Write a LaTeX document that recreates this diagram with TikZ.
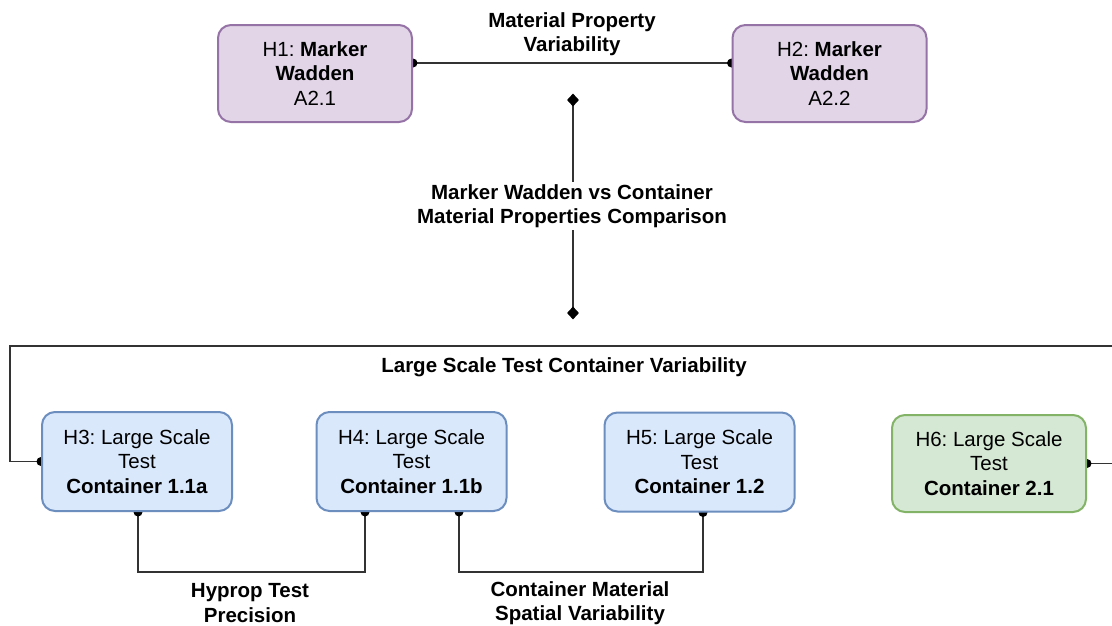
\documentclass[tikz,border=0pt]{standalone}
\usepackage{fontspec}
\setmainfont{Liberation Sans}
\usetikzlibrary{backgrounds,shapes.geometric}
\frenchspacing

\definecolor{purplefill}{HTML}{E1D5E7}
\definecolor{purpleline}{HTML}{9673A6}
\definecolor{bluefill}{HTML}{DAE8FC}
\definecolor{blueline}{HTML}{6C8EBF}
\definecolor{greenfill}{HTML}{D5E8D4}
\definecolor{greenline}{HTML}{82B366}
\definecolor{linkcol}{HTML}{333333}

\tikzset{
  hbox/.style={draw, line width=2pt, rounded corners=13pt, align=center,
    inner sep=0pt, font=\fontsize{20.5}{24.5}\selectfont},
  purplebox/.style={hbox, fill=purplefill, draw=purpleline, minimum width=194pt, minimum height=97pt},
  bluebox/.style={hbox, fill=bluefill, draw=blueline, minimum width=190pt, minimum height=99pt},
  greenbox/.style={hbox, fill=greenfill, draw=greenline, minimum width=194pt, minimum height=97pt},
  link/.style={draw=linkcol, line width=1.4pt},
  enddot/.style={circle, fill=black, inner sep=0pt, minimum size=9pt},
  enddiamond/.style={diamond, fill=black, inner sep=0pt, minimum width=12pt, minimum height=13pt},
  lbl/.style={align=center, inner sep=2pt, font=\fontsize{20.5}{24.5}\selectfont\bfseries},
}

\begin{document}
\begin{tikzpicture}[x=1pt,y=-1pt]
\useasboundingbox (0,0) rectangle (1112,625);

% hypothesis boxes
\node[purplebox] (h1) at (315,73.5) {H1: \textbf{Marker}\\\textbf{Wadden}\\A2.1};
\node[purplebox] (h2) at (829.5,73.5) {H2: \textbf{Marker}\\\textbf{Wadden}\\A2.2};
\node[bluebox] (h3) at (137,461.5) {H3: Large Scale\\Test\\\textbf{Container 1.1a}};
\node[bluebox] (h4) at (411.5,461.5) {H4: Large Scale\\Test\\\textbf{Container 1.1b}};
\node[bluebox] (h5) at (699.5,462) {H5: Large Scale\\Test\\\textbf{Container 1.2}};
\node[greenbox] (h6) at (989,463.5) {H6: Large Scale\\Test\\\textbf{Container 2.1}};

% connection points and free ends
\coordinate (h1e) at ([yshift=10.5pt]h1.east);
\coordinate (h2w) at ([yshift=10.5pt]h2.west);
\coordinate (vtop) at (573,100);
\coordinate (vbot) at (573,313);
\coordinate (loopl) at (10,346);
\coordinate (loopr) at (1140,346);
\coordinate (h4l) at ([xshift=-46.5pt]h4.south);
\coordinate (h4r) at ([xshift=47.5pt]h4.south);
\coordinate (h5b) at ([xshift=3.5pt]h5.south);
\coordinate (h3b) at ([xshift=1pt]h3.south);

\begin{pgfonlayer}{background}
  \fill[white] (0,0) rectangle (1112,625);
  \clip (0,0) rectangle (1112,625);
  % H1 -- H2
  \draw[link] (h1e) -- (h2w);
  \node[enddot] at (h1e) {};
  \node[enddot] at (h2w) {};
  % outer loop H3 -- H6
  \draw[link] (h3.west) -| (loopl) -- (loopr) |- (h6.east);
  \node[enddot] at (h3.west) {};
  \node[enddot] at (h6.east) {};
  % H3 -- H4
  \draw[link] (h3b) -- ++(0,60) -| (h4l);
  \node[enddot] at (h3b) {};
  \node[enddot] at (h4l) {};
  % H4 -- H5
  \draw[link] (h4r) -- ++(0,60) -| (h5b);
  \node[enddot] at (h4r) {};
  \node[enddot] at (h5b) {};
\end{pgfonlayer}

% comparison link
\draw[link] (vtop) -- (vbot);
\node[enddiamond] (dtop) at (vtop) {};
\node[enddiamond] (dbot) at (vbot) {};

% link labels
\node[lbl] (l1) at (572,34) {Material Property\\Variability};
\node[lbl, fill=white] (l2) at (572,206) {Marker Wadden vs Container\\Material Properties Comparison};
\node[lbl] (l3) at (564,367) {Large Scale Test Container Variability};
\node[lbl] (l4) at (250,603) {Hyprop Test\\Precision};
\node[lbl] (l5) at (580,603) {Container Material\\Spatial Variability};
\end{tikzpicture}
\end{document}
